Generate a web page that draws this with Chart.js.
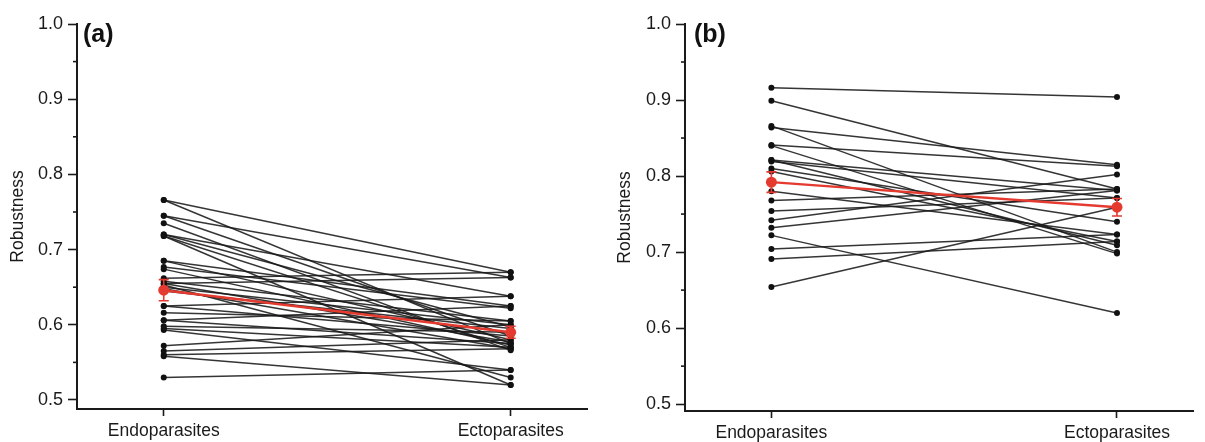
<!DOCTYPE html>
<html>
<head>
<meta charset="utf-8">
<script src="https://cdn.jsdelivr.net/npm/chart.js@4"></script>
<style>
  html, body { margin: 0; padding: 0; background: #fff; }
  #wrap { position: relative; width: 1205px; height: 442px; }
  canvas { position: absolute; top: 0; }
  #chartA { left: 0; }
  #chartB { left: 600px; }
</style>
</head>
<body>
<div id="wrap">
  <canvas id="chartA" width="600" height="442"></canvas>
  <canvas id="chartB" width="605" height="442"></canvas>
</div>
<script>
// categories and tick labels
var categorias = ['Endoparasites', 'Ectoparasites'];
var yTicks = [0.5, 0.6, 0.7, 0.8, 0.9, 1.0];
var yMinorTicks = [0.55, 0.65, 0.75, 0.85, 0.95];

// panel (a): one value pair per line
var aEndo = [0.766, 0.766, 0.745, 0.745, 0.735, 0.720, 0.720, 0.718, 0.718, 0.685, 0.685, 0.677, 0.674, 0.662, 0.658, 0.655, 0.655,
             0.653, 0.650, 0.648, 0.645, 0.625, 0.625, 0.616, 0.606, 0.606, 0.598, 0.595, 0.593, 0.572, 0.565, 0.560, 0.558, 0.530];
var aEcto = [0.670, 0.575, 0.663, 0.585, 0.566, 0.638, 0.597, 0.570, 0.520, 0.625, 0.580, 0.622, 0.573, 0.670, 0.605, 0.663, 0.577,
             0.530, 0.600, 0.568, 0.595, 0.638, 0.585, 0.605, 0.625, 0.575, 0.590, 0.570, 0.540, 0.600, 0.580, 0.568, 0.520, 0.540];
var aMedia = [0.646, 0.590];
var aErro = [0.014, 0.008];

// panel (b)
var bEndo = [0.916, 0.899, 0.866, 0.864, 0.841, 0.840, 0.821, 0.821, 0.819, 0.810, 0.806, 0.780, 0.768, 0.754, 0.742, 0.732, 0.722, 0.704, 0.691, 0.654];
var bEcto = [0.904, 0.783, 0.700, 0.815, 0.813, 0.698, 0.781, 0.709, 0.771, 0.740, 0.714, 0.723, 0.783, 0.771, 0.802, 0.781, 0.620, 0.723, 0.714, 0.759];
var bMedia = [0.792, 0.759];
var bErro = [0.0135, 0.0115];

var fonte = '"Liberation Sans", Arial, sans-serif';
var corEixo = '#1a1a1a';
var corMedia = '#e53a2f';

// minor ticks, error bars and panel letter
var painelPlugin = {
    id: 'painel',
    afterDraw: function(chart, args, opts) {
        var ctx = chart.ctx;
        var x = chart.scales.x, y = chart.scales.y;
        ctx.save();

        ctx.strokeStyle = corEixo;
        ctx.lineWidth = 1.6;
        yMinorTicks.forEach(function(v) {
            var py = y.getPixelForValue(v);
            ctx.beginPath();
            ctx.moveTo(x.left - 4, py);
            ctx.lineTo(x.left, py);
            ctx.stroke();
        });

        ctx.strokeStyle = corMedia;
        ctx.lineWidth = 1.6;
        opts.media.forEach(function(m, i) {
            var px = x.getPixelForValue(i);
            var topo = y.getPixelForValue(m + opts.erro[i]);
            var base = y.getPixelForValue(m - opts.erro[i]);
            ctx.beginPath();
            ctx.moveTo(px, topo); ctx.lineTo(px, base);
            ctx.moveTo(px - 5, topo); ctx.lineTo(px + 5, topo);
            ctx.moveTo(px - 5, base); ctx.lineTo(px + 5, base);
            ctx.stroke();
        });

        ctx.fillStyle = '#111';
        ctx.font = 'bold 25px ' + fonte;
        ctx.textBaseline = 'middle';
        ctx.fillText(opts.letra, x.left + opts.letraDx, 35);
        ctx.restore();
    }
};

function criarGrafico(id, endo, ecto, media, erro, letra, o) {
    var datasets = [{
        data: [{ x: 0, y: media[0] }, { x: 1, y: media[1] }],
        borderColor: corMedia,
        borderWidth: 2.4,
        pointRadius: 5.5,
        pointBackgroundColor: corMedia,
        pointBorderWidth: 0,
        order: 0
    }];
    endo.forEach(function(v, i) {
        datasets.push({
            data: [{ x: 0, y: v }, { x: 1, y: ecto[i] }],
            borderColor: 'rgba(25, 25, 25, 0.88)',
            borderWidth: 1.5,
            pointRadius: 3,
            pointBackgroundColor: '#111',
            pointBorderWidth: 0,
            order: 1
        });
    });

    var ctx = document.getElementById(id).getContext('2d');
    return new Chart(ctx, {
        type: 'line',
        data: { datasets: datasets },
        plugins: [painelPlugin],
        options: {
            responsive: false,
            animation: false,
            devicePixelRatio: 1,
            layout: { padding: { top: 24, right: o.padRight, left: 0, bottom: 0 } },
            plugins: {
                legend: { display: false },
                tooltip: { enabled: false },
                painel: { media: media, erro: erro, letra: letra, letraDx: o.letraDx }
            },
            scales: {
                x: {
                    type: 'linear',
                    min: -0.25,
                    max: 1.22,
                    afterBuildTicks: function(s) { s.ticks = [{ value: 0 }, { value: 1 }]; },
                    afterFit: function(s) { s.height = 442 - o.baseY; },
                    ticks: {
                        autoSkip: false,
                        maxRotation: 0,
                        padding: 5,
                        color: corEixo,
                        font: { size: 17.5, family: fonte },
                        callback: function(v) { return categorias[v]; }
                    },
                    grid: { drawOnChartArea: false, tickLength: 7, tickColor: corEixo, tickWidth: 1.6 },
                    border: { color: corEixo, width: 2 }
                },
                y: {
                    type: 'linear',
                    min: o.yMin,
                    max: 1.0,
                    afterBuildTicks: function(s) { s.ticks = yTicks.map(function(v) { return { value: v }; }); },
                    afterFit: function(s) { s.width = o.eixoX; },
                    ticks: {
                        padding: 5,
                        color: corEixo,
                        font: { size: 18, family: fonte },
                        callback: function(v) { return v.toFixed(1); }
                    },
                    grid: { drawOnChartArea: false, tickLength: 9, tickColor: corEixo, tickWidth: 1.6 },
                    border: { color: corEixo, width: 2 },
                    title: {
                        display: true,
                        text: 'Robustness',
                        color: corEixo,
                        font: { size: 17.5, family: fonte },
                        padding: { top: o.tituloPad, bottom: 0 }
                    }
                }
            }
        }
    });
}

criarGrafico('chartA', aEndo, aEcto, aMedia, aErro, '(a)',
    { eixoX: 77, padRight: 13, baseY: 409, yMin: 0.488, letraDx: 6, tituloPad: 8 });
criarGrafico('chartB', bEndo, bEcto, bMedia, bErro, '(b)',
    { eixoX: 85, padRight: 12, baseY: 411, yMin: 0.491, letraDx: 9, tituloPad: 15 });
</script>
</body>
</html>
